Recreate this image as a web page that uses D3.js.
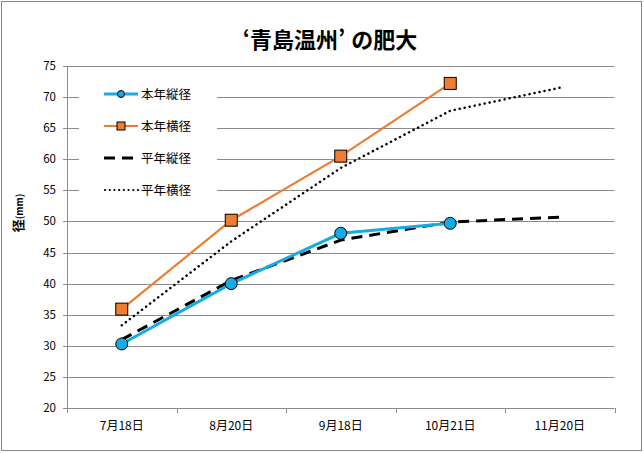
<!DOCTYPE html>
<html lang="ja">
<head>
<meta charset="UTF-8">
<title>青島温州の肥大</title>
<style>
  body { margin: 0; background: #fff; }
  text { font-family: "Noto Sans CJK JP", "Noto Sans", sans-serif; fill: #000; }
  .grid line { stroke: #8c8c8c; stroke-width: 1; }
</style>
</head>
<body>
<script src="https://d3js.org/d3.v7.min.js"></script>
<script>
const dates = ["7月18日", "8月20日", "9月18日", "10月21日", "11月20日"];
const honenTate = [30.3, 40.0, 48.1, 49.7];
const honenYoko = [35.9, 50.2, 60.5, 72.2];
const heinenTate = [31.0, 40.5, 47.0, 49.9, 50.7];
const heinenYoko = [33.3, 46.8, 58.6, 67.8, 71.5];
const yTicks = [20, 25, 30, 35, 40, 45, 50, 55, 60, 65, 70, 75];

const width = 644, height = 453;
const m = { left: 67, right: 29.5, top: 66, bottom: 45 };

const svg = d3.select("body").append("svg")
  .attr("width", width).attr("height", height);

svg.append("rect")
  .attr("x", 1.5).attr("y", 1.5)
  .attr("width", 640).attr("height", 449)
  .attr("fill", "#fff").attr("stroke", "#878787");

const x = d3.scaleBand()
  .domain(dates)
  .range([m.left, width - m.right]);

const y = d3.scaleLinear()
  .domain([20, 75])
  .range([height - m.bottom, m.top]);

// grid
svg.append("g").attr("class", "grid")
  .selectAll("line").data(yTicks).join("line")
  .attr("x1", m.left - 4).attr("x2", width - m.right)
  .attr("y1", d => Math.round(y(d)) + 0.5).attr("y2", d => Math.round(y(d)) + 0.5);

// y axis
svg.append("line")
  .attr("x1", m.left + 0.5).attr("x2", m.left + 0.5)
  .attr("y1", y(75)).attr("y2", y(20))
  .attr("stroke", "#8c8c8c");

svg.append("g").selectAll("text").data(yTicks).join("text")
  .attr("x", m.left - 11).attr("y", d => y(d) + 4)
  .attr("text-anchor", "end")
  .attr("font-size", 11.5)
  .text(d => d);

// x axis ticks
const xEdges = dates.map(d => x(d)).concat([x(dates[dates.length - 1]) + x.bandwidth()]);
svg.append("g").selectAll("line").data(xEdges).join("line")
  .attr("x1", d => Math.round(d) + 0.5).attr("x2", d => Math.round(d) + 0.5)
  .attr("y1", y(20)).attr("y2", y(20) + 5)
  .attr("stroke", "#8c8c8c");

svg.append("g").selectAll("text").data(dates).join("text")
  .attr("x", d => x(d) + x.bandwidth() / 2)
  .attr("y", y(20) + 22)
  .attr("text-anchor", "middle")
  .attr("font-size", 12)
  .text(d => d);

// title
const tt = svg.append("text")
  .attr("x", 330).attr("y", 48)
  .attr("text-anchor", "middle")
  .attr("font-size", 22).attr("font-weight", "bold");
tt.append("tspan").text("‘青島温州’");
tt.append("tspan").attr("dx", 6).text("の肥大");

// y label
const yl = svg.append("text")
  .attr("transform", "translate(23,213) rotate(-90)")
  .attr("text-anchor", "middle");
yl.append("tspan").attr("font-size", 13).attr("font-weight", "bold").text("径");
yl.append("tspan").attr("font-size", 9.5).attr("font-weight", "bold").text("(mm)");

const cx = i => x(dates[i]) + x.bandwidth() / 2;
const line = d3.line().x((d, i) => cx(i)).y(d => y(d));

// legend box (covers grid)
svg.append("rect")
  .attr("x", 79).attr("y", 72).attr("width", 138).attr("height", 132)
  .attr("fill", "#fff");

svg.append("path").datum(heinenYoko)
  .attr("d", line).attr("fill", "none")
  .attr("stroke", "#000").attr("stroke-width", 2.5)
  .attr("stroke-dasharray", "0.1 5").attr("stroke-linecap", "round");

svg.append("path").datum(heinenTate)
  .attr("d", line).attr("fill", "none")
  .attr("stroke", "#000").attr("stroke-width", 3)
  .attr("stroke-dasharray", "11 7");

svg.append("path").datum(honenYoko)
  .attr("d", line).attr("fill", "none")
  .attr("stroke", "#ED7D31").attr("stroke-width", 2.2);

svg.append("path").datum(honenTate)
  .attr("d", line).attr("fill", "none")
  .attr("stroke", "#13ACE5").attr("stroke-width", 3);

svg.append("g").selectAll("rect").data(honenYoko).join("rect")
  .attr("x", (d, i) => cx(i) - 6).attr("y", d => y(d) - 6)
  .attr("width", 12).attr("height", 12)
  .attr("fill", "#ED7D31").attr("stroke", "#000").attr("stroke-width", 1);

svg.append("g").selectAll("circle").data(honenTate).join("circle")
  .attr("cx", (d, i) => cx(i)).attr("cy", d => y(d))
  .attr("r", 6)
  .attr("fill", "#13ACE5").attr("stroke", "#000").attr("stroke-width", 1);

// legend
const legendItems = ["本年縦径", "本年横径", "平年縦径", "平年横径"];
const lg = svg.append("g");
legendItems.forEach((name, i) => {
  const ly = 94 + i * 32;
  const g = lg.append("g");
  if (i === 0) {
    g.append("line").attr("x1", 104).attr("x2", 138).attr("y1", ly).attr("y2", ly)
      .attr("stroke", "#13ACE5").attr("stroke-width", 3);
    g.append("circle").attr("cx", 121).attr("cy", ly).attr("r", 3.5)
      .attr("fill", "#13ACE5").attr("stroke", "#000");
  } else if (i === 1) {
    g.append("line").attr("x1", 104).attr("x2", 138).attr("y1", ly).attr("y2", ly)
      .attr("stroke", "#ED7D31").attr("stroke-width", 2.2);
    g.append("rect").attr("x", 117).attr("y", ly - 4).attr("width", 8).attr("height", 8)
      .attr("fill", "#ED7D31").attr("stroke", "#000");
  } else if (i === 2) {
    g.append("line").attr("x1", 104).attr("x2", 137).attr("y1", ly).attr("y2", ly)
      .attr("stroke", "#000").attr("stroke-width", 3).attr("stroke-dasharray", "11 7");
  } else {
    g.append("line").attr("x1", 105).attr("x2", 138).attr("y1", ly).attr("y2", ly)
      .attr("stroke", "#000").attr("stroke-width", 2.2)
      .attr("stroke-dasharray", "0.1 4.6").attr("stroke-linecap", "round");
  }
  g.append("text").attr("x", 141).attr("y", ly + 4.5)
    .attr("font-size", 12.5).text(name);
});
</script>
</body>
</html>
